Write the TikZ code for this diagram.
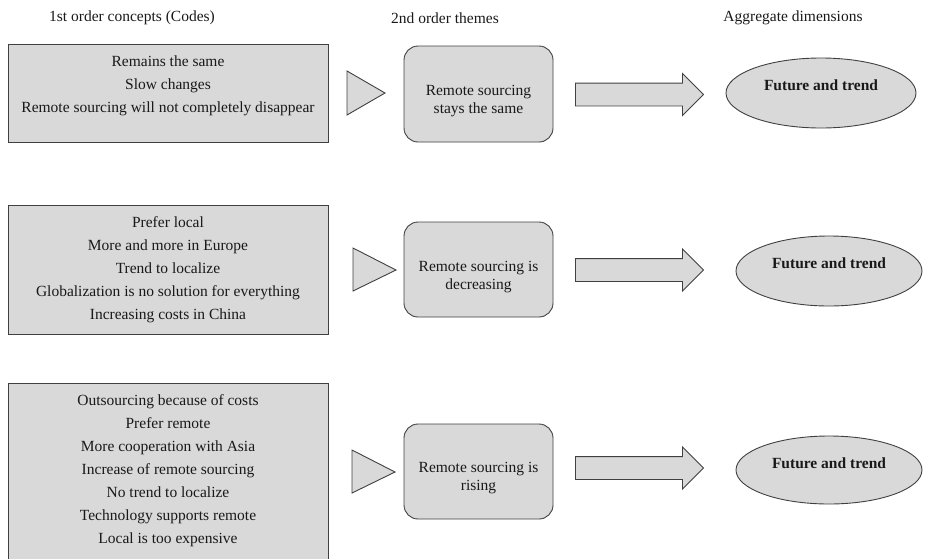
\documentclass[tikz,border=0pt]{standalone}
\usepackage{fontspec}
\setmainfont{Liberation Serif}
\usetikzlibrary{positioning,shapes.geometric,shapes.arrows}
\definecolor{boxgray}{RGB}{217,217,217}
\definecolor{linegray}{RGB}{64,64,64}
\definecolor{inkgray}{RGB}{25,25,25}

\begin{document}
\begin{tikzpicture}[x=1pt,y=-1pt,
  every node/.style={text=inkgray},
  header/.style={font=\fontsize{15.5}{19}\selectfont},
  codebox/.style={rectangle, draw=linegray, fill=boxgray, line width=0.9pt, minimum width=320pt},
  codetext/.style={align=center, inner sep=0pt, font=\fontsize{15.5}{23}\selectfont},
  themebox/.style={rectangle, rounded corners=14pt, draw=linegray, fill=boxgray, line width=0.9pt, minimum width=149pt, minimum height=95pt},
  themetext/.style={align=center, inner sep=0pt, font=\fontsize{15.5}{18.5}\selectfont},
  pointer/.style={draw=linegray, fill=boxgray, line width=0.9pt, line join=miter},
  blockarrow/.style={single arrow, draw=linegray, fill=boxgray, line width=0.9pt,
    inner xsep=0pt, inner ysep=11pt, minimum height=128pt, single arrow head extend=9.5pt,
    single arrow tip angle=90, anchor=tail},
  dimnode/.style={ellipse, draw=linegray, fill=boxgray, line width=0.9pt, inner sep=0pt},
  dimtext/.style={inner sep=0pt, font=\fontsize{15.5}{19}\selectfont\bfseries}]
\clip (0,0) rectangle (927,558);

\node[header] (h1) at (132,18) {1st order concepts (Codes)};
\node[header] (h2) at (445,18) {2nd order themes};
\node[header] (h3) at (793,18) {Aggregate dimensions};

\node[codebox, minimum height=98pt] (c1) at (168,93) {};
\node[codebox, minimum height=129pt] (c2) at (168,269.5) {};
\node[codebox, minimum height=185pt] (c3) at (168,475.5) {};
\node[codetext, below=11.5pt of c1.north] (c1txt) {Remains the same\\Slow changes\\Remote sourcing will not completely disappear};
\node[codetext, below=11.5pt of c2.north] (c2txt) {Prefer local\\More and more in Europe\\Trend to localize\\Globalization is no solution for everything\\Increasing costs in China};
\node[codetext, below=11.5pt of c3.north] (c3txt) {Outsourcing because of costs\\Prefer remote\\More cooperation with Asia\\Increase of remote sourcing\\No trend to localize\\Technology supports remote\\Local is too expensive};

\draw[pointer] (347,71) -- (385,93) -- (347,115) -- cycle;
\draw[pointer] (353,248) -- (396,270) -- (353,291) -- cycle;
\draw[pointer] (352,450) -- (395,472) -- (352,493) -- cycle;

\node[themebox, minimum height=96pt] (t1) at (478.5,94) {};
\node[themebox] (t2) at (478.5,269.5) {};
\node[themebox] (t3) at (478.5,471.5) {};
\node[themetext] (t1txt) at ([yshift=-7pt]t1.center) {Remote sourcing\\stays the same};
\node[themetext] (t2txt) at ([yshift=-7.5pt]t2.center) {Remote sourcing is\\decreasing};
\node[themetext] (t3txt) at ([yshift=-6.5pt]t3.center) {Remote sourcing is\\rising};

\foreach \i/\y in {1/94.5,2/270,3/468}{
  \node[blockarrow] (a\i) at (575,\y) {};
}

\node[dimnode, minimum width=190pt, minimum height=70pt] (d1) at (821,93) {};
\node[dimnode, minimum width=186pt, minimum height=70pt] (d2) at (829,271) {};
\node[dimnode, minimum width=186pt, minimum height=68pt] (d3) at (829,470) {};
\node[dimtext] (d1txt) at ([yshift=8pt]d1.center) {Future and trend};
\node[dimtext] (d2txt) at ([yshift=7.5pt]d2.center) {Future and trend};
\node[dimtext] (d3txt) at ([yshift=6.5pt]d3.center) {Future and trend};
\end{tikzpicture}
\end{document}
